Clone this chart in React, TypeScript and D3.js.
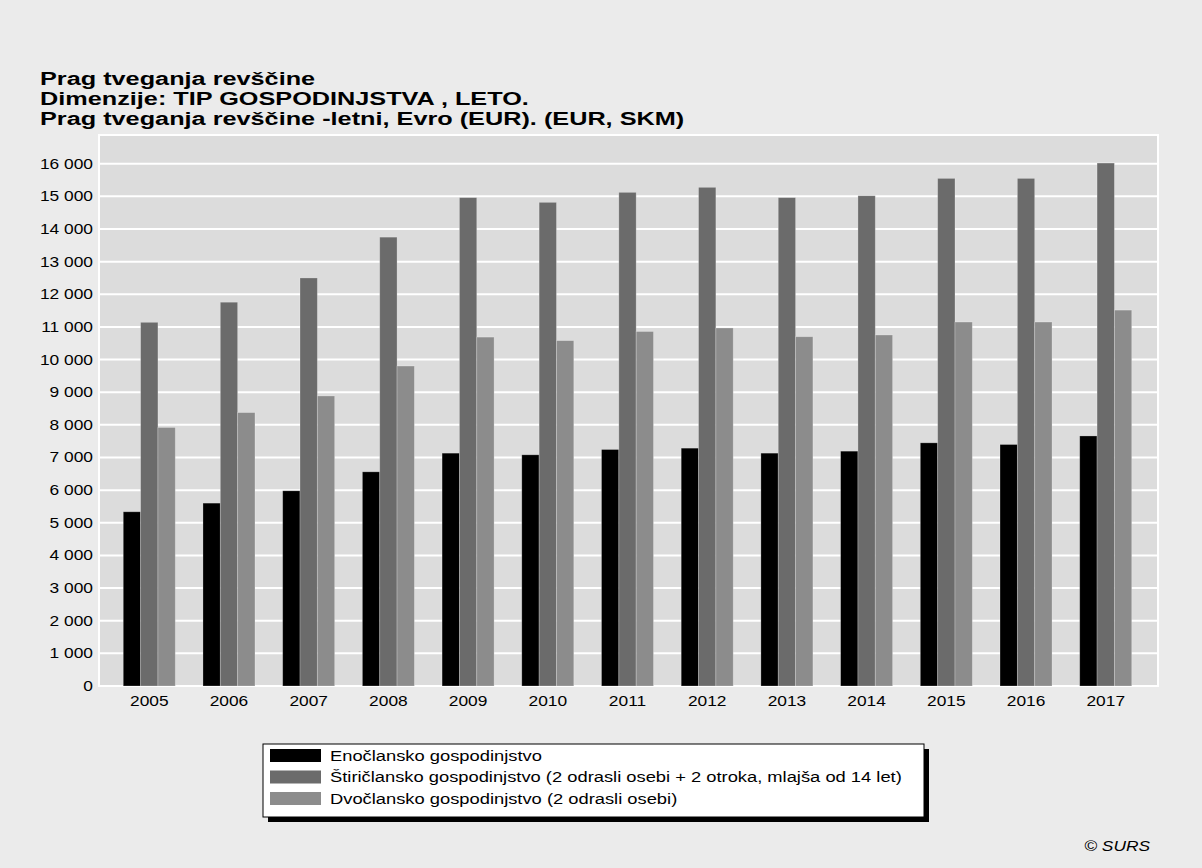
import React from "react";
import * as d3 from "d3";

const years = ["2005","2006","2007","2008","2009","2010","2011","2012","2013","2014","2015","2016","2017"];
const seriesNames = [
  "Enočlansko gospodinjstvo",
  "Štiričlansko gospodinjstvo (2 odrasli osebi + 2 otroka, mlajša od 14 let)",
  "Dvočlansko gospodinjstvo (2 odrasli osebi)",
];
const single = [5337, 5602, 5980, 6561, 7133, 7082, 7245, 7286, 7133, 7194, 7449, 7398, 7660];
const four = [11141, 11757, 12500, 13750, 14960, 14816, 15122, 15276, 14960, 15020, 15550, 15550, 16020];
const two = [7920, 8376, 8885, 9802, 10688, 10580, 10860, 10968, 10700, 10753, 11150, 11150, 11515];
const seriesColors = ["#000000", "#6b6b6b", "#8c8c8c"];
const yTicks = d3.range(0, 16001, 1000);
const titleLines = [
  "Prag tveganja revščine",
  "Dimenzije: TIP GOSPODINJSTVA , LETO.",
  "Prag tveganja revščine -letni, Evro (EUR). (EUR, SKM)",
];

const FONT = "'Liberation Sans', Arial, sans-serif";

function T({ x, y, anchor = "start", size = 14, weight = "normal", style = "normal", sx = 1.24, children }: any) {
  return (
    <text
      transform={`translate(${x},${y}) scale(${sx},1)`}
      textAnchor={anchor}
      fontSize={size}
      fontWeight={weight}
      fontStyle={style}
      fontFamily={FONT}
      fill="#000"
    >
      {children}
    </text>
  );
}

export default function App() {
  const W = 1202, H = 868;
  const pl = 99, pr = 1158, pt = 135, pb = 686;
  const x0 = d3.scaleBand().domain(years).range([98, 1157]).paddingInner(0.3475).paddingOuter(0.317);
  const x1 = d3.scaleBand().domain(["0", "1", "2"]).range([0, x0.bandwidth()]);
  const y = d3.scaleLinear().domain([0, 16000]).range([pb, 163.7]);
  const data = [single, four, two];

  return (
    <svg width={W} height={H} style={{ position: "absolute", left: 0, top: 0 }}>
      <rect x={0} y={0} width={W} height={H} fill="#ebebeb" />
      {titleLines.map((t, i) => (
        <T key={i} x={40} y={85 + i * 20} size={19} sx={1.33} weight="bold">{t}</T>
      ))}
      <rect x={pl} y={pt} width={pr - pl} height={pb - pt} fill="#dcdcdc" stroke="#ffffff" strokeWidth={2} />
      {yTicks.map((v) => (
        <g key={v}>
          <line x1={pl} x2={pr} y1={y(v)} y2={y(v)} stroke="#ffffff" strokeWidth={2} />
          <T x={93} y={y(v) + 5} anchor="end" size={14}>{d3.format(",")(v).replace(/,/g, " ")}</T>
        </g>
      ))}
      {years.map((yr, i) => (
        <g key={yr} transform={`translate(${x0(yr)},0)`}>
          {data.map((s, k) => (
            <rect
              key={k}
              x={x1(String(k))}
              y={y(s[i])}
              width={x1.bandwidth()}
              height={pb - y(s[i])}
              fill={seriesColors[k]}
              stroke="rgba(255,255,255,0.3)"
              strokeWidth={0.8}
            />
          ))}
          <T x={x0.bandwidth() / 2} y={706} anchor="middle" size={14}>{yr}</T>
        </g>
      ))}
      <rect x={268} y={749} width={661} height={73} fill="#000" />
      <rect x={263} y={744} width={661} height={73} fill="#ffffff" stroke="#000" strokeWidth={1} />
      {seriesNames.map((n, k) => (
        <g key={k}>
          <rect x={270} y={749 + k * 21.5} width={51} height={13} fill={seriesColors[k]} />
          <T x={330} y={760.5 + k * 21.5} size={14} sx={1.31}>{n}</T>
        </g>
      ))}
      <T x={1150} y={851} anchor="end" size={14} style="italic">© SURS</T>
    </svg>
  );
}
